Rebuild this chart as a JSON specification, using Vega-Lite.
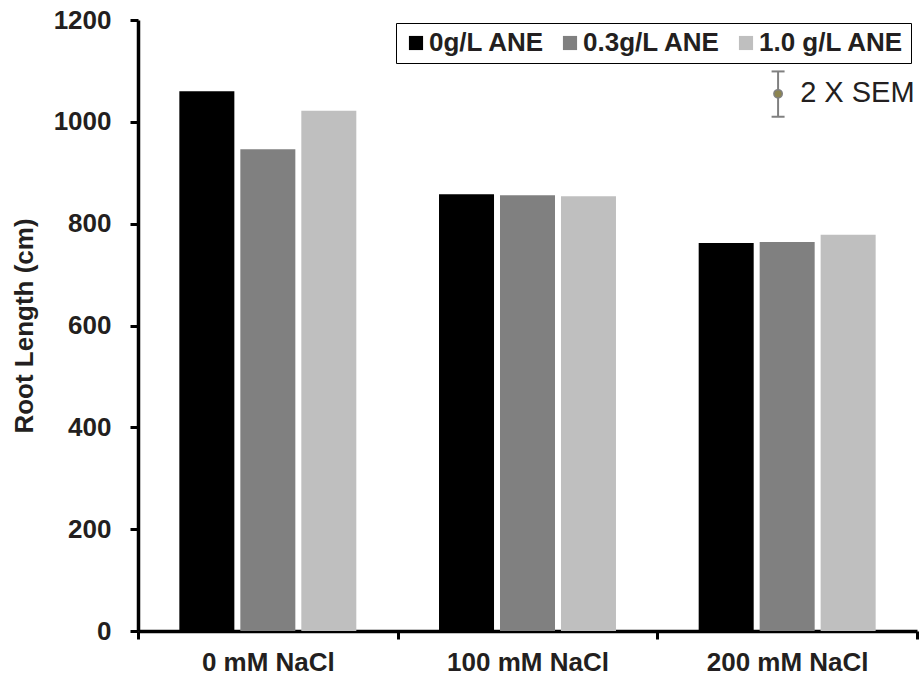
{
  "$schema": "https://vega.github.io/schema/vega-lite/v6.json",
  "width": 779,
  "height": 611,
  "autosize": {"type": "none"},
  "padding": {"left": 138, "top": 20, "right": 2, "bottom": 46},
  "background": "white",
  "config": {
    "font": "Liberation Sans",
    "view": {"stroke": null},
    "axis": {
      "grid": false,
      "domainColor": "#000000",
      "domainWidth": 3.5,
      "tickColor": "#000000",
      "tickWidth": 3,
      "tickSize": 8,
      "labelFont": "Liberation Sans",
      "labelFontSize": 26,
      "labelFontWeight": "bold",
      "labelColor": "#231f20",
      "titleFont": "Liberation Sans",
      "titleFontSize": 26,
      "titleFontWeight": "bold",
      "titleColor": "#231f20"
    }
  },
  "layer": [
    {
      "data": {
        "values": [
          {"salt": "0 mM NaCl", "ane": "0g/L ANE", "length": 1060},
          {"salt": "0 mM NaCl", "ane": "0.3g/L ANE", "length": 946},
          {"salt": "0 mM NaCl", "ane": "1.0 g/L ANE", "length": 1022},
          {"salt": "100 mM NaCl", "ane": "0g/L ANE", "length": 858},
          {"salt": "100 mM NaCl", "ane": "0.3g/L ANE", "length": 856},
          {"salt": "100 mM NaCl", "ane": "1.0 g/L ANE", "length": 854},
          {"salt": "200 mM NaCl", "ane": "0g/L ANE", "length": 762},
          {"salt": "200 mM NaCl", "ane": "0.3g/L ANE", "length": 764},
          {"salt": "200 mM NaCl", "ane": "1.0 g/L ANE", "length": 778}
        ]
      },
      "mark": {"type": "bar"},
      "encoding": {
        "x": {
          "field": "salt",
          "type": "nominal",
          "sort": ["0 mM NaCl", "100 mM NaCl", "200 mM NaCl"],
          "scale": {"paddingInner": 0, "paddingOuter": 0},
          "title": null,
          "axis": {"labelAngle": 0, "tickBand": "extent", "labelPadding": 10}
        },
        "xOffset": {
          "field": "ane",
          "type": "nominal",
          "sort": ["0g/L ANE", "0.3g/L ANE", "1.0 g/L ANE"],
          "scale": {"paddingInner": 0.098, "paddingOuter": 0.678}
        },
        "y": {
          "field": "length",
          "type": "quantitative",
          "scale": {"domain": [0, 1200], "nice": false},
          "title": "Root Length (cm)",
          "axis": {"values": [0, 200, 400, 600, 800, 1000, 1200], "format": "d", "labelPadding": 19, "titlePadding": 16}
        },
        "color": {
          "field": "ane",
          "type": "nominal",
          "sort": ["0g/L ANE", "0.3g/L ANE", "1.0 g/L ANE"],
          "scale": {"domain": ["0g/L ANE", "0.3g/L ANE", "1.0 g/L ANE"], "range": ["#000000", "#808080", "#bfbfbf"]},
          "legend": {
            "title": null,
            "orient": "none",
            "legendX": 258,
            "legendY": 3,
            "direction": "horizontal",
            "symbolType": "square",
            "symbolSize": 200,
            "symbolStrokeWidth": 0,
            "labelFont": "Liberation Sans",
            "labelFontSize": 26,
            "labelFontWeight": "bold",
            "labelColor": "#231f20",
            "labelOffset": 0,
            "columnPadding": 12,
            "padding": 7,
            "strokeColor": "#000000",
            "fillColor": "white"
          }
        }
      }
    },
    {
      "data": {"values": [{"salt": "200 mM NaCl", "lo": 1010, "hi": 1099}]},
      "mark": {"type": "rule", "color": "#808080", "strokeWidth": 2},
      "encoding": {
        "x": {"field": "salt", "type": "nominal", "bandPosition": 0.465},
        "y": {"field": "lo", "type": "quantitative"},
        "y2": {"field": "hi"}
      }
    },
    {
      "data": {"values": [{"salt": "200 mM NaCl", "v": 1010}, {"salt": "200 mM NaCl", "v": 1099}]},
      "mark": {"type": "point", "shape": "stroke", "size": 169, "filled": false, "stroke": "#808080", "strokeWidth": 2, "opacity": 1},
      "encoding": {
        "x": {"field": "salt", "type": "nominal", "bandPosition": 0.465},
        "y": {"field": "v", "type": "quantitative"}
      }
    },
    {
      "data": {"values": [{"salt": "200 mM NaCl", "v": 1055}]},
      "mark": {"type": "point", "shape": "circle", "size": 70, "filled": true, "fill": "#8c8450", "stroke": "#808080", "strokeWidth": 1.5, "opacity": 1},
      "encoding": {
        "x": {"field": "salt", "type": "nominal", "bandPosition": 0.465},
        "y": {"field": "v", "type": "quantitative"}
      }
    },
    {
      "data": {"values": [{"salt": "200 mM NaCl", "v": 1056, "label": "2 X SEM"}]},
      "mark": {"type": "text", "align": "left", "baseline": "middle", "fontSize": 29, "font": "Liberation Sans", "color": "#231f20"},
      "encoding": {
        "x": {"field": "salt", "type": "nominal", "bandPosition": 0.55},
        "y": {"field": "v", "type": "quantitative"},
        "text": {"field": "label"}
      }
    }
  ]
}
